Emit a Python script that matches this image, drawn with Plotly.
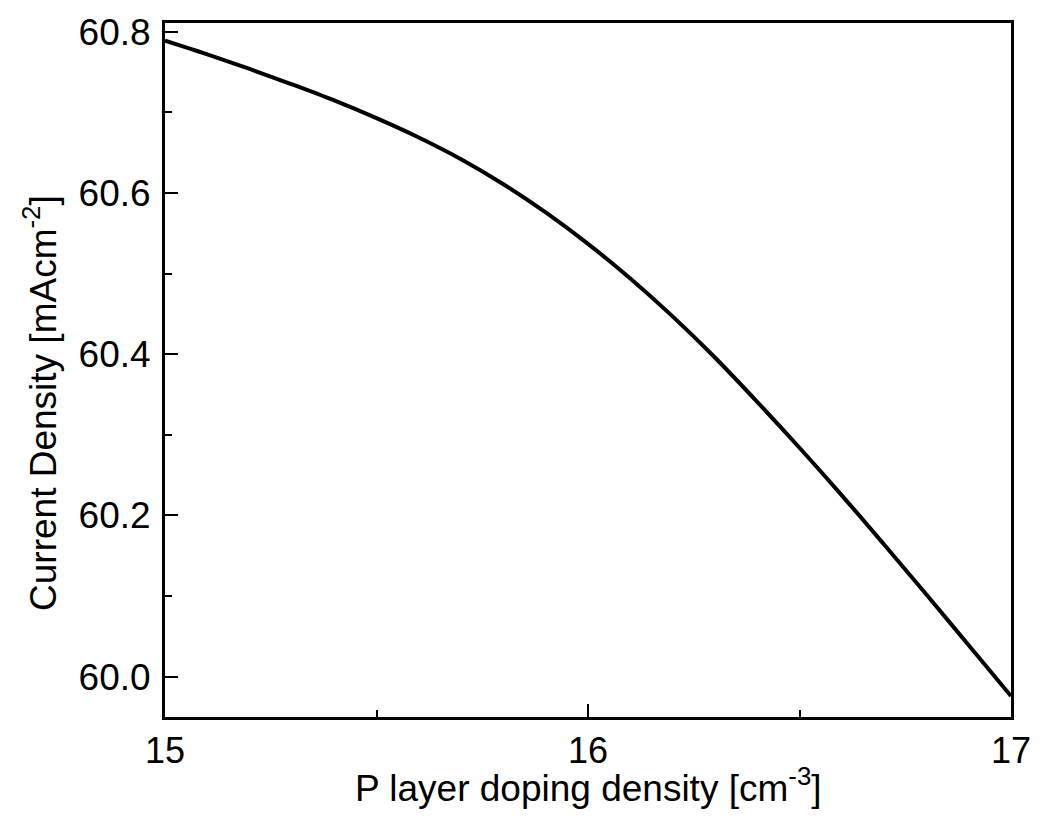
import plotly.graph_objects as go

doping = [15.0, 15.1, 15.2, 15.3, 15.4, 15.5, 15.6, 15.7, 15.8, 15.9, 16.0,
          16.1, 16.2, 16.3, 16.4, 16.5, 16.6, 16.7, 16.8, 16.9, 17.0]
current = [60.789, 60.772, 60.754, 60.735, 60.715, 60.693, 60.669, 60.642, 60.611, 60.576, 60.537,
           60.494, 60.447, 60.396, 60.341, 60.284, 60.225, 60.164, 60.102, 60.039, 59.976]

x_ticks = [15, 16, 17]
y_ticks = [60.0, 60.2, 60.4, 60.6, 60.8]

x_title = "P layer doping density [cm<sup>-3</sup>]"
y_title = "Current Density [mAcm<sup>-2</sup>]"

FONT = "Liberation Sans, Arial, sans-serif"

fig = go.Figure()
fig.add_trace(go.Scatter(x=doping, y=current, mode="lines",
                         line=dict(color="black", width=4, shape="spline"),
                         showlegend=False, hoverinfo="skip"))

fig.update_layout(
    width=1043, height=817,
    margin=dict(l=165, r=25, t=22, b=100),
    paper_bgcolor="white", plot_bgcolor="white",
    font=dict(family=FONT, color="black"),
)
fig.update_xaxes(
    range=[15, 17], tickvals=x_ticks, ticktext=[str(v) for v in x_ticks],
    ticks="inside", ticklen=13, tickwidth=2, tickcolor="black",
    minor=dict(tickvals=[15.5, 16.5], ticks="inside", ticklen=7, tickwidth=2, tickcolor="black"),
    showline=True, linewidth=3, linecolor="black", mirror=True,
    showgrid=False, zeroline=False,
    tickfont=dict(size=36, family=FONT),
)
fig.update_yaxes(
    range=[59.95, 60.811], tickvals=y_ticks, ticktext=[f"{v:.1f}" for v in y_ticks],
    ticks="inside", ticklen=13, tickwidth=2, tickcolor="black",
    minor=dict(tickvals=[60.1, 60.3, 60.5, 60.7], ticks="inside", ticklen=7, tickwidth=2, tickcolor="black"),
    showline=True, linewidth=3, linecolor="black", mirror=True,
    showgrid=False, zeroline=False,
    tickfont=dict(size=37, family=FONT),
    ticklabelstandoff=4,
)

fig.add_annotation(text=x_title, xref="paper", yref="paper",
                   x=0.5, y=-0.098, xanchor="center", yanchor="middle",
                   showarrow=False, font=dict(size=37, family=FONT, color="black"))
fig.add_annotation(text=y_title, xref="paper", yref="paper",
                   x=-0.147, y=0.452, xanchor="center", yanchor="middle", textangle=-90,
                   showarrow=False, font=dict(size=37, family=FONT, color="black"))

fig.write_html("out.html")
